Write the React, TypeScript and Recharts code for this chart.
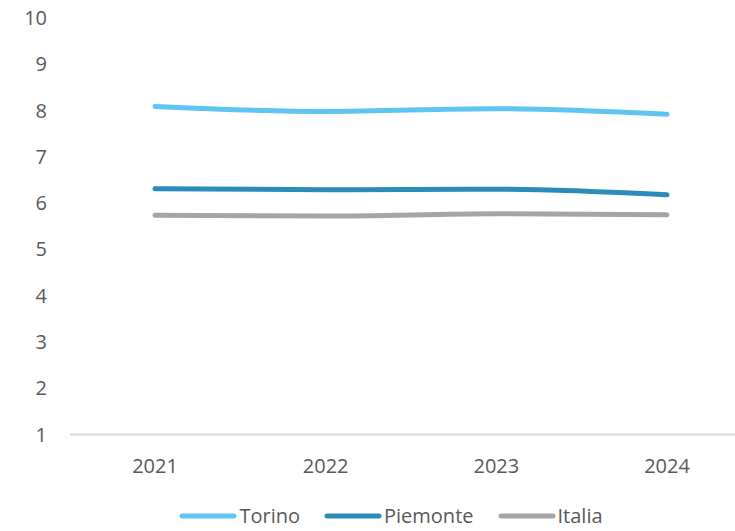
import React from 'react';
import { LineChart, Line, XAxis, YAxis, Legend } from 'recharts';

const years = ['2021', '2022', '2023', '2024'];
const torino = [8.09, 7.98, 8.04, 7.92];
const piemonte = [6.31, 6.29, 6.3, 6.18];
const italia = [5.74, 5.72, 5.77, 5.75];
const yTicks = [1, 2, 3, 4, 5, 6, 7, 8, 9, 10];

const series = [
  { key: 'Torino', values: torino, color: '#5EC5F1' },
  { key: 'Piemonte', values: piemonte, color: '#2B8BB9' },
  { key: 'Italia', values: italia, color: '#A5A5A5' },
];

const data = years.map((year, i) => ({
  year,
  Torino: torino[i],
  Piemonte: piemonte[i],
  Italia: italia[i],
}));

const FONT = '"Open Sans", sans-serif';

const LegendContent = () => (
  <div
    style={{
      display: 'flex',
      justifyContent: 'center',
      alignItems: 'center',
      gap: 24,
      height: 40,
      paddingTop: 10,
      paddingLeft: 30,
      boxSizing: 'border-box',
      fontFamily: FONT,
      fontSize: 20,
      color: '#595959',
    }}
  >
    {series.map((s) => (
      <div key={s.key} style={{ display: 'flex', alignItems: 'center' }}>
        <svg width={58} height={8} style={{ marginRight: 2 }}>
          <line x1={3} y1={4} x2={55} y2={4} stroke={s.color} strokeWidth={5} strokeLinecap="round" />
        </svg>
        <span style={{ lineHeight: '18px' }}>{s.key}</span>
      </div>
    ))}
  </div>
);

export default function App() {
  return (
    <div style={{ position: 'absolute', left: 0, top: 0, width: 735, height: 531, overflow: 'hidden', background: '#fff' }}>
      <LineChart width={752} height={531} data={data} margin={{ top: 18, right: 0, bottom: 0, left: 0 }}>
        <XAxis
          dataKey="year"
          height={56.5}
          padding={{ left: 85, right: 85 }}
          tickLine={false}
          tickSize={0}
          tickMargin={24}
          axisLine={{ stroke: '#D9D9D9', strokeWidth: 2 }}
          tick={{ fill: '#595959', fontSize: 20, fontFamily: FONT }}
        />
        <YAxis
          width={70}
          domain={[1, 10]}
          ticks={yTicks}
          interval={0}
          axisLine={false}
          tickLine={false}
          tickSize={0}
          tickMargin={23}
          tick={{ fill: '#595959', fontSize: 20, fontFamily: FONT }}
        />
        <Legend verticalAlign="bottom" height={40} content={<LegendContent />} />
        {series.map((s) => (
          <Line
            key={s.key}
            type="monotone"
            dataKey={s.key}
            stroke={s.color}
            strokeWidth={5}
            strokeLinecap="round"
            dot={false}
            activeDot={false}
            isAnimationActive={false}
          />
        ))}
      </LineChart>
    </div>
  );
}
